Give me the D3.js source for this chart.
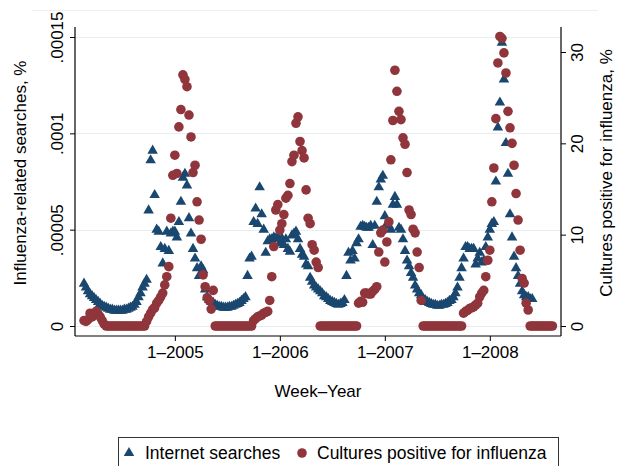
<!DOCTYPE html>
<html>
<head>
<meta charset="utf-8">
<script src="https://cdn.jsdelivr.net/npm/d3@7/dist/d3.min.js"></script>
<style>
    body { margin: 0; background: #ffffff; }
    svg text { font-family: "Liberation Sans", Arial, Helvetica, sans-serif; fill: #000; }
</style>
</head>
<body>
<div id="chart"></div>
<script>
// weekly series, index 0 = first week shown (early 2004)
// share of influenza-related searches, in units of 1e-5 (i.e. 2.2 -> .000022)
const searches = [
    2.2, 2.0, 1.8, 1.65, 1.55, 1.45, 1.35, 1.25, 1.15, 1.05,
    1.0, 0.95, 0.9, 0.85, 0.85, 0.8, 0.8, 0.8, 0.8, 0.8,
    0.85, 0.85, 0.9, 0.95, 1.0, 1.1, 1.25, 1.5, 1.7, 2.0,
    2.2, 2.4, 6.0, 8.6, 9.1, 6.8, 5.0, 4.9, 4.1, 3.25,
    4.0, 4.9, 3.9, 4.8, 4.9, 4.9, 4.6, 5.4, 6.45, 7.7,
    7.9, 7.3, 5.6, 4.8, 4.0, 3.5, 3.0, 2.6, 3.1, 2.9,
    1.9, 1.5, 1.35, 1.25, 1.2, 1.1, 1.05, 1.0, 1.0, 0.95,
    0.95, 0.95, 1.0, 1.0, 1.05, 1.1, 1.15, 1.2, 1.3, 1.4,
    1.5, 2.6, 3.5, 3.6, 5.4, 6.1, 5.3, 7.2, 5.8, 5.0,
    3.8, 4.4, 4.5, 4.5, 4.6, 4.55, 4.6, 4.3, 4.55, 4.2,
    4.5, 4.0, 3.85, 4.7, 4.8, 4.9, 4.5, 4.0, 3.7, 3.6,
    3.2, 3.1, 2.5, 2.3, 2.1, 2.0, 1.9, 1.8, 1.7, 1.55,
    1.5, 1.4, 1.3, 1.25, 1.2, 1.15, 1.1, 1.15, 1.2, 1.35,
    2.6, 3.8, 3.4, 3.9, 3.5, 4.3, 4.5, 5.15, 5.2, 5.15,
    5.1, 5.1, 5.2, 4.2, 5.2, 6.45, 7.2, 7.6, 7.8, 5.7,
    5.3, 5.2, 5.0, 6.3, 6.7, 6.3, 5.1, 5.0, 4.5, 3.9,
    3.4, 3.1, 2.75, 2.5, 2.1, 1.9, 1.7, 1.6, 1.4, 1.35,
    1.25, 1.2, 1.15, 1.1, 1.1, 1.05, 1.05, 1.1, 1.1, 1.15,
    1.2, 1.3, 1.35, 1.5, 1.7, 2.0, 2.5, 3.0, 3.5, 4.1,
    4.1, 4.0, 4.0, 4.0, 3.2, 3.5, 3.8, 3.3, 3.4, 4.1,
    4.6, 5.0, 5.3, 5.4, 7.5, 10.3, 11.6, 14.7, 12.8, 9.5,
    7.9, 5.8, 4.6, 3.6, 3.0, 2.6, 2.2, 1.8, 1.6, 1.5,
    1.5, 1.4, 1.4, null, null, null, null, null, null, null,
    null, null, null
];

// cultures positive for influenza, %
const cultures = [
    0.6, 0.5, 0.7, 1.4, 1.0, 1.2, 1.6, 1.3, 1.0, 0.6,
    0.2, 0, 0, 0, 0, 0, 0, 0, 0, 0,
    0, 0, 0, 0, 0, 0, 0, 0, 0, 0,
    0, 0.5, 1.0, 1.4, 1.8, 2.0, 2.5, 2.8, 3.2, 3.6,
    4.5, 5.4, 6.5, 11.8, 16.5, 18.7, 16.7, 21.8, 23.7, 27.5,
    27.0, 26.2, 23.1, 20.7, 16.8, 17.6, 13.6, 11.6, 9.5, 5.6,
    4.3, 3.1, 2.8, 1.85, 3.9, 0, 0, 0, 0, 0,
    0, 0, 0, 0, 0, 0, 0, 0, 0, 0,
    0, 0, 0, 0, 0.6, 0.8, 1.0, 1.1, 1.2, 1.4,
    1.5, 1.6, 2.8, 5.4, 8.7, 12.7, 13.3, 10.5, 11.2, 12.2,
    14.0, 14.3, 15.6, 18.0, 18.7, 22.2, 22.9, 20.2, 19.2, 18.4,
    14.9, 11.8, 11.2, 8.9, 8.3, 7.0, 6.4, 0, 0, 0,
    0, 0, 0, 0, 0, 0, 0, 0, 0, 0,
    0, 0, 0, 0, 0, 0, 2.5, 2.7, 2.6, 3.6,
    3.6, 3.5, 3.5, 3.8, 4.0, 4.3, 8.1, 10.2, 10.5, 7.0,
    9.2, 11.4, 18.2, 22.5, 28.0, 25.7, 23.5, 22.6, 20.6, 19.9,
    16.8, 12.7, 12.2, 10.6, 10.2, 8.1, 6.4, 2.8, 0, 0,
    0, 0, 0, 0, 0, 0, 0, 0, 0, 0,
    0, 0, 0, 0, 0, 0, 0, 0, 1.4, 1.6,
    1.7, 1.9, 2.0, 2.1, 2.3, 2.5, 3.2, 3.6, 3.9, 5.4,
    7.2, 8.3, 13.6, 17.3, 22.7, 28.8, 31.7, 31.5, 29.9, 27.7,
    23.5, 21.7, 20.0, 17.6, 14.5, 11.6, 8.3, 5.2, 4.7, 2.5,
    1.75, 0, 0, 0, 0, 0, 0, 0, 0, 0,
    0, 0, 0
];

// x axis: week index of week 1 of each year
const tickWeeks = [45, 97, 149, 201];
const tickLabels = ["1\u20132005", "1\u20132006", "1\u20132007", "1\u20132008"];

const leftTicks = [0, 0.00005, 0.0001, 0.00015];
const leftTickLabels = ["0", ".00005", ".0001", ".00015"];
const rightTicks = [0, 10, 20, 30];

const seriesNames = ["Internet searches", "Cultures positive for influenza"];

class FluViz {
    constructor (parentElement) {
        this.parentElement = parentElement;
        this.colors = ["#1a476f", "#90353b"];
    }

    initViz() {
        let vis = this;

        vis.width = 617;
        vis.height = 466;
        vis.fontSize = 17;

        // plot region edges (axis lines)
        vis.left = 75;
        vis.right = 561;
        vis.top = 27;
        vis.bottom = 336;

        vis.svg = d3.select("#" + vis.parentElement).append("svg")
            .attr("width", vis.width)
            .attr("height", vis.height);

        vis.x = d3.scaleLinear()
            .domain([0, searches.length - 1])
            .range([84, 552.4]);

        vis.yLeft = d3.scaleLinear()
            .domain([0, 0.00015])
            .range([326, 37]);

        vis.yRight = d3.scaleLinear()
            .domain([0, 30])
            .range([326, 52]);

        vis.displayData = searches.map(function (d, i) {
            return {week: i, search: d === null ? null : d * 1e-5, culture: cultures[i]};
        });

        vis.drawFrame();
        vis.drawAxes();
        vis.drawPoints();
        vis.drawLegend();
    }

    drawFrame() {
        let vis = this;

        // faint top edge of the plot region
        vis.svg.append("line")
            .attr("x1", 32).attr("x2", 598)
            .attr("y1", 10.5).attr("y2", 10.5)
            .attr("stroke", "#eaf0f3")
            .attr("stroke-width", 1);

        // gridlines at left ticks
        vis.svg.append("g")
            .attr("class", "grid")
            .selectAll("line")
            .data(leftTicks)
            .enter()
            .append("line")
            .attr("x1", vis.left + 1)
            .attr("x2", vis.right - 1)
            .attr("y1", d => Math.round(vis.yLeft(d)) + 0.5)
            .attr("y2", d => Math.round(vis.yLeft(d)) + 0.5)
            .attr("stroke", "#e6eef3")
            .attr("stroke-width", 1.2);
    }

    drawAxes() {
        let vis = this;

        let styleAxis = function (g) {
            g.attr("font-size", vis.fontSize)
                .attr("font-family", "Liberation Sans, Arial, sans-serif");
            g.select(".domain").remove();
            g.selectAll(".tick line").attr("stroke", "#000");
        };

        // left axis
        vis.svg.append("g")
            .attr("class", "y-axis axis")
            .attr("transform", "translate(" + vis.left + ",0)")
            .call(d3.axisLeft(vis.yLeft)
                .tickValues(leftTicks)
                .tickFormat((d, i) => leftTickLabels[i])
                .tickSize(5))
            .call(styleAxis)
            .selectAll("text")
            .attr("x", 0)
            .attr("y", -12)
            .attr("dy", null)
            .attr("text-anchor", "middle")
            .attr("transform", "rotate(-90)");

        // right axis
        vis.svg.append("g")
            .attr("class", "y2-axis axis")
            .attr("transform", "translate(" + vis.right + ",0)")
            .call(d3.axisRight(vis.yRight)
                .tickValues(rightTicks)
                .tickSize(5))
            .call(styleAxis)
            .selectAll("text")
            .attr("x", 0)
            .attr("y", 22)
            .attr("dy", null)
            .attr("text-anchor", "middle")
            .attr("transform", "rotate(-90)");

        // bottom axis
        vis.svg.append("g")
            .attr("class", "x-axis axis")
            .attr("transform", "translate(0," + vis.bottom + ")")
            .call(d3.axisBottom(vis.x)
                .tickValues(tickWeeks)
                .tickFormat((d, i) => tickLabels[i])
                .tickSize(5))
            .call(styleAxis)
            .selectAll("text")
            .attr("y", 10)
            .attr("dy", "0.71em");

        // axis lines
        let lines = [
            [vis.left, vis.top, vis.left, vis.bottom],
            [vis.right, vis.top, vis.right, vis.bottom],
            [vis.left, vis.bottom, vis.right, vis.bottom]
        ];
        vis.svg.append("g")
            .selectAll("line")
            .data(lines)
            .enter()
            .append("line")
            .attr("x1", d => d[0]).attr("y1", d => d[1])
            .attr("x2", d => d[2]).attr("y2", d => d[3])
            .attr("stroke", "#000")
            .attr("stroke-width", 1.2);

        // axis titles
        vis.svg.append("text")
            .attr("class", "y label")
            .attr("text-anchor", "middle")
            .attr("font-size", vis.fontSize)
            .attr("transform", "translate(26,173) rotate(-90)")
            .text("Influenza-related searches, %");

        vis.svg.append("text")
            .attr("class", "y2 label")
            .attr("text-anchor", "middle")
            .attr("font-size", vis.fontSize)
            .attr("transform", "translate(612,173) rotate(-90)")
            .text("Cultures positive for influenza, %");

        vis.svg.append("text")
            .attr("class", "x label")
            .attr("text-anchor", "middle")
            .attr("font-size", vis.fontSize)
            .attr("x", (vis.left + vis.right) / 2)
            .attr("y", 397)
            .text("Week\u2013Year");
    }

    drawPoints() {
        let vis = this;

        let triangle = d3.symbol().type(d3.symbolTriangle).size(48);

        vis.svg.append("g")
            .attr("class", "searches")
            .selectAll("path")
            .data(vis.displayData.filter(d => d.search !== null))
            .enter()
            .append("path")
            .attr("d", triangle)
            .attr("transform", d => "translate(" + vis.x(d.week) + "," + vis.yLeft(d.search) + ")")
            .attr("fill", vis.colors[0]);

        vis.svg.append("g")
            .attr("class", "cultures")
            .selectAll("circle")
            .data(vis.displayData)
            .enter()
            .append("circle")
            .attr("cx", d => vis.x(d.week))
            .attr("cy", d => vis.yRight(d.culture))
            .attr("r", 4.8)
            .attr("fill", vis.colors[1]);
    }

    drawLegend() {
        let vis = this;

        let legend = vis.svg.append("g").attr("class", "legend");

        legend.append("rect")
            .attr("x", 118.5)
            .attr("y", 437.5)
            .attr("width", 440)
            .attr("height", 40)
            .attr("fill", "#fff")
            .attr("stroke", "#333")
            .attr("stroke-width", 1);

        let items = [
            {name: seriesNames[0], mx: 129, tx: 145},
            {name: seriesNames[1], mx: 302, tx: 317}
        ];

        legend.append("path")
            .attr("d", d3.symbol().type(d3.symbolTriangle).size(48))
            .attr("transform", "translate(" + items[0].mx + ",453)")
            .attr("fill", vis.colors[0]);

        legend.append("circle")
            .attr("cx", items[1].mx)
            .attr("cy", 453)
            .attr("r", 4.8)
            .attr("fill", vis.colors[1]);

        legend.selectAll("text")
            .data(items)
            .enter()
            .append("text")
            .attr("x", d => d.tx)
            .attr("y", 459)
            .attr("font-size", 17.5)
            .text(d => d.name);
    }
}

let viz = new FluViz("chart");
viz.initViz();
</script>
</body>
</html>
